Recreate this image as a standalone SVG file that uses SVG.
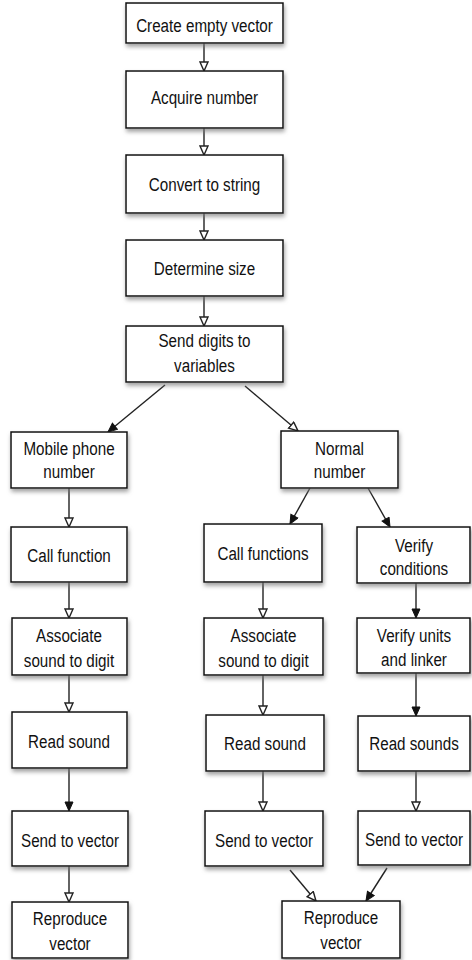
<svg xmlns="http://www.w3.org/2000/svg" width="472" height="960" viewBox="0 0 472 960">
<defs>
<style>
.box{fill:#fff;stroke:#111;stroke-width:1.5}
.lbl{font-family:"Liberation Sans",Arial,sans-serif;font-size:19px;fill:#111;text-anchor:middle}
.c{fill:none;stroke:#222;stroke-width:1.4}
.h{marker-end:url(#hollow)}
.f{marker-end:url(#filled)}
</style>
<filter id="sh" x="-10%" y="-10%" width="120%" height="130%">
<feDropShadow dx="1" dy="3" stdDeviation="2" flood-color="#777" flood-opacity="0.7"/>
</filter>
<marker id="hollow" markerUnits="userSpaceOnUse" markerWidth="12" markerHeight="10" refX="10" refY="4.5" orient="auto" viewBox="0 0 12 10">
<path d="M1,0.5 L10,4.5 L1,8.5 z" fill="#fff" stroke="#222" stroke-width="1.4"/>
</marker>
<marker id="filled" markerUnits="userSpaceOnUse" markerWidth="12" markerHeight="10" refX="10" refY="4.5" orient="auto" viewBox="0 0 12 10">
<path d="M1,0.5 L10,4.5 L1,8.5 z" fill="#111" stroke="#111" stroke-width="1"/>
</marker>
</defs>
<rect width="472" height="960" fill="#fff"/>

<g id="connectors">
<line class="c h" x1="204" y1="43" x2="204" y2="71"/>
<line class="c h" x1="204" y1="128" x2="204" y2="155"/>
<line class="c h" x1="204" y1="213" x2="204" y2="240"/>
<line class="c h" x1="204" y1="296" x2="204" y2="326"/>
<line class="c f" x1="165" y1="385" x2="108" y2="432"/>
<line class="c h" x1="245" y1="386" x2="298" y2="431"/>
<line class="c h" x1="69" y1="488" x2="69" y2="527"/>
<line class="c h" x1="69" y1="582" x2="69" y2="618"/>
<line class="c h" x1="69" y1="675" x2="69" y2="712"/>
<line class="c f" x1="69" y1="768" x2="69" y2="811"/>
<line class="c h" x1="69" y1="866" x2="69" y2="902"/>
<line class="c f" x1="310" y1="488" x2="290" y2="524"/>
<line class="c f" x1="368" y1="488" x2="390" y2="527"/>
<line class="c h" x1="263" y1="582" x2="263" y2="618"/>
<line class="c h" x1="263" y1="675" x2="263" y2="715"/>
<line class="c h" x1="263" y1="771" x2="263" y2="811"/>
<line class="c f" x1="416" y1="583" x2="416" y2="618"/>
<line class="c f" x1="416" y1="673" x2="416" y2="716"/>
<line class="c h" x1="416" y1="771" x2="416" y2="811"/>
<line class="c h" x1="290" y1="870" x2="316" y2="901"/>
<line class="c f" x1="387" y1="868" x2="366" y2="901"/>
</g>

<g id="n1"><rect class="box" filter="url(#sh)" x="126" y="3" width="157" height="40"/><text class="lbl" transform="translate(204.5,32) scale(0.8,1)">Create empty vector</text></g>
<g id="n2"><rect class="box" filter="url(#sh)" x="126" y="71" width="157" height="57"/><text class="lbl" transform="translate(204.5,104) scale(0.8,1)">Acquire number</text></g>
<g id="n3"><rect class="box" filter="url(#sh)" x="126" y="155" width="157" height="58"/><text class="lbl" transform="translate(204.5,191) scale(0.8,1)">Convert to string</text></g>
<g id="n4"><rect class="box" filter="url(#sh)" x="126" y="240" width="157" height="56"/><text class="lbl" transform="translate(204.5,275) scale(0.8,1)">Determine size</text></g>
<g id="n5"><rect class="box" filter="url(#sh)" x="126" y="326" width="157" height="56"/><text class="lbl" transform="translate(204.5,347) scale(0.8,1)">Send digits to</text><text class="lbl" transform="translate(204.5,372) scale(0.8,1)">variables</text></g>

<g id="n6"><rect class="box" filter="url(#sh)" x="11" y="432" width="116" height="56"/><text class="lbl" transform="translate(69,455) scale(0.8,1)">Mobile phone</text><text class="lbl" transform="translate(69,478) scale(0.8,1)">number</text></g>
<g id="n7"><rect class="box" filter="url(#sh)" x="11" y="527" width="116" height="55"/><text class="lbl" transform="translate(69,562) scale(0.8,1)">Call function</text></g>
<g id="n8"><rect class="box" filter="url(#sh)" x="12" y="618" width="115" height="57"/><text class="lbl" transform="translate(69,642) scale(0.8,1)">Associate</text><text class="lbl" transform="translate(69,667) scale(0.8,1)">sound to digit</text></g>
<g id="n9"><rect class="box" filter="url(#sh)" x="12" y="712" width="115" height="56"/><text class="lbl" transform="translate(69,748) scale(0.8,1)">Read sound</text></g>
<g id="n10"><rect class="box" filter="url(#sh)" x="12" y="811" width="116" height="55"/><text class="lbl" transform="translate(70,847) scale(0.8,1)">Send to vector</text></g>
<g id="n11"><rect class="box" filter="url(#sh)" x="12" y="902" width="116" height="56"/><text class="lbl" transform="translate(70,925) scale(0.8,1)">Reproduce</text><text class="lbl" transform="translate(70,950) scale(0.8,1)">vector</text></g>

<g id="n12"><rect class="box" filter="url(#sh)" x="281" y="431" width="117" height="57"/><text class="lbl" transform="translate(339.5,455) scale(0.8,1)">Normal</text><text class="lbl" transform="translate(339.5,478) scale(0.8,1)">number</text></g>
<g id="n13"><rect class="box" filter="url(#sh)" x="204" y="524" width="118" height="58"/><text class="lbl" transform="translate(263,560) scale(0.8,1)">Call functions</text></g>
<g id="n14"><rect class="box" filter="url(#sh)" x="204" y="618" width="119" height="57"/><text class="lbl" transform="translate(263.5,642) scale(0.8,1)">Associate</text><text class="lbl" transform="translate(263.5,667) scale(0.8,1)">sound to digit</text></g>
<g id="n15"><rect class="box" filter="url(#sh)" x="206" y="715" width="118" height="56"/><text class="lbl" transform="translate(265,750) scale(0.8,1)">Read sound</text></g>
<g id="n16"><rect class="box" filter="url(#sh)" x="205" y="811" width="118" height="55"/><text class="lbl" transform="translate(264,847) scale(0.8,1)">Send to vector</text></g>
<g id="n17"><rect class="box" filter="url(#sh)" x="282" y="901" width="118" height="57"/><text class="lbl" transform="translate(341,924) scale(0.8,1)">Reproduce</text><text class="lbl" transform="translate(341,949) scale(0.8,1)">vector</text></g>

<g id="n18"><rect class="box" filter="url(#sh)" x="357" y="527" width="113" height="56"/><text class="lbl" transform="translate(414,552) scale(0.8,1)">Verify</text><text class="lbl" transform="translate(414,575) scale(0.8,1)">conditions</text></g>
<g id="n19"><rect class="box" filter="url(#sh)" x="357" y="618" width="113" height="55"/><text class="lbl" transform="translate(414,642) scale(0.8,1)">Verify units</text><text class="lbl" transform="translate(414,666) scale(0.8,1)">and linker</text></g>
<g id="n20"><rect class="box" filter="url(#sh)" x="358" y="716" width="112" height="55"/><text class="lbl" transform="translate(414,750) scale(0.8,1)">Read sounds</text></g>
<g id="n21"><rect class="box" filter="url(#sh)" x="358" y="811" width="112" height="54"/><text class="lbl" transform="translate(414,846) scale(0.8,1)">Send to vector</text></g>
</svg>
